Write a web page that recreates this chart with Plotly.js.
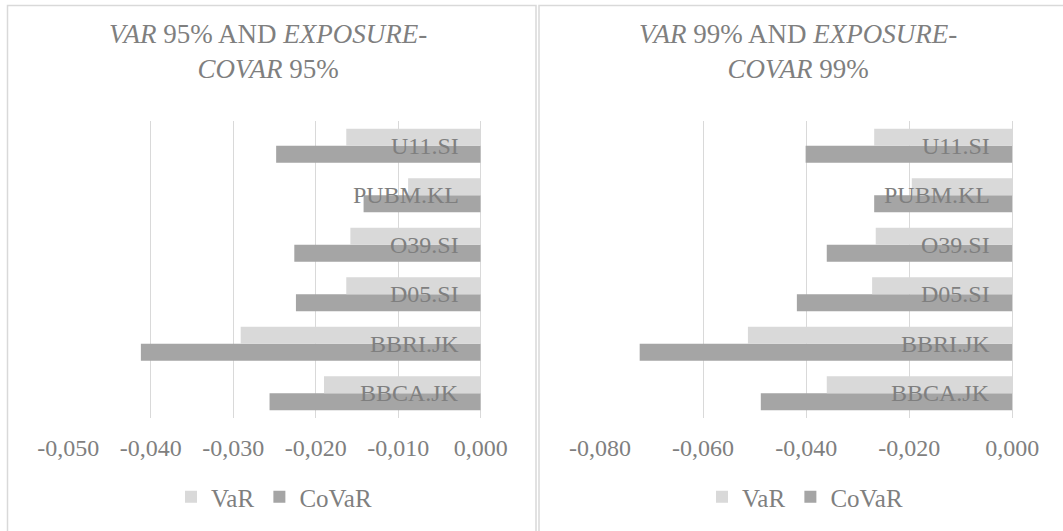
<!DOCTYPE html>
<html>
<head>
<meta charset="utf-8">
<script src="https://cdn.plot.ly/plotly-3.0.1.min.js"></script>
<style>
  html, body { margin: 0; padding: 0; background: #ffffff; }
  #chart { width: 1063px; height: 531px; }
</style>
</head>
<body>
<div id="chart"></div>
<script>
// Banks, bottom to top
const banks = ['BBCA.JK', 'BBRI.JK', 'D05.SI', 'O39.SI', 'PUBM.KL', 'U11.SI'];

// 95% confidence level
const var95   = [-0.0190, -0.0291, -0.0163, -0.0158, -0.0088, -0.0163];
const covar95 = [-0.0256, -0.0412, -0.0224, -0.0226, -0.0142, -0.0248];

// 99% confidence level
const var99   = [-0.0360, -0.0513, -0.0272, -0.0265, -0.0195, -0.0268];
const covar99 = [-0.0488, -0.0723, -0.0418, -0.0360, -0.0268, -0.0401];

// Axis ticks (comma decimal, plain hyphen minus)
const ticks95 = [-0.05, -0.04, -0.03, -0.02, -0.01, 0];
const tickLabels95 = ['-0,050', '-0,040', '-0,030', '-0,020', '-0,010', '0,000'];
const ticks99 = [-0.08, -0.06, -0.04, -0.02, 0];
const tickLabels99 = ['-0,080', '-0,060', '-0,040', '-0,020', '0,000'];

const titles = [
  '<i>VAR</i> 95% AND <i>EXPOSURE-</i><br><i>COVAR</i> 95%',
  '<i>VAR</i> 99% AND <i>EXPOSURE-</i><br><i>COVAR</i> 99%'
];

const FONT = '"Liberation Serif", "Times New Roman", serif';
const GREY_TEXT = '#7f7f7f';
const LIGHT = '#d9d9d9';
const DARK = '#a5a5a5';
const W = 1063, H = 531;
const px = v => v / W;
const py = v => (H - v) / H;

function bar(name, x, color, xa, ya, legend, rank) {
  return {
    type: 'bar', orientation: 'h', name: name,
    y: banks, x: x, xaxis: xa, yaxis: ya,
    marker: { color: color, line: { width: 0 } },
    legend: legend, legendrank: rank,
    hoverinfo: 'x+y'
  };
}

const data = [
  bar('CoVaR', covar95, DARK, 'x', 'y', 'legend', 2),
  bar('VaR', var95, LIGHT, 'x', 'y', 'legend', 1),
  bar('CoVaR', covar99, DARK, 'x2', 'y2', 'legend2', 2),
  bar('VaR', var99, LIGHT, 'x2', 'y2', 'legend2', 1)
];

function xAxis(domain, range, vals, text) {
  return {
    domain: domain, range: range,
    tickvals: vals, ticktext: text,
    showgrid: true, gridcolor: LIGHT, gridwidth: 1,
    zeroline: true, zerolinecolor: LIGHT, zerolinewidth: 1,
    showline: false, ticks: '',
    tickfont: { family: FONT, size: 24, color: GREY_TEXT },
    ticklabelstandoff: 13,
    fixedrange: true
  };
}

function yAxis(anchor) {
  return {
    anchor: anchor,
    domain: [py(418), py(121)],
    showticklabels: false,
    showgrid: false, zeroline: false, showline: false, ticks: '',
    categoryorder: 'array', categoryarray: banks,
    fixedrange: true
  };
}

function legendAt(xc) {
  return {
    orientation: 'h', x: px(xc), xanchor: 'center',
    y: py(497), yanchor: 'middle',
    font: { family: FONT, size: 25, color: GREY_TEXT },
    bgcolor: 'rgba(0,0,0,0)', itemwidth: 30,
    traceorder: 'normal'
  };
}

// Bank names sit inside the plot, right-aligned next to the zero line
function bankLabels(xref, yref) {
  return banks.map(b => ({
    text: b, x: 0, y: b, xref: xref, yref: yref,
    xanchor: 'right', yanchor: 'middle', xshift: -20, showarrow: false,
    font: { family: FONT, size: 24, color: GREY_TEXT }
  }));
}

function titleAt(text, xc) {
  return {
    text: text, x: px(xc), y: py(51), xref: 'paper', yref: 'paper',
    xanchor: 'center', yanchor: 'middle', showarrow: false, align: 'center',
    font: { family: FONT, size: 27, color: GREY_TEXT }
  };
}

const layout = {
  width: W, height: H,
  margin: { l: 0, r: 0, t: 0, b: 0 },
  paper_bgcolor: '#ffffff', plot_bgcolor: 'rgba(0,0,0,0)',
  barmode: 'group', bargap: 0.31, bargroupgap: 0,
  showlegend: true,
  xaxis: xAxis([px(68.3), px(480.7)], [-0.05, 0], ticks95, tickLabels95),
  yaxis: yAxis('x'),
  xaxis2: xAxis([px(600), px(1012.3)], [-0.08, 0], ticks99, tickLabels99),
  yaxis2: yAxis('x2'),
  legend: legendAt(274),
  legend2: legendAt(805),
  annotations: [
    titleAt(titles[0], 268),
    titleAt(titles[1], 798),
    ...bankLabels('x', 'y'),
    ...bankLabels('x2', 'y2')
  ],
  shapes: [
    // left panel frame (open at the bottom)
    { type: 'path', xref: 'paper', yref: 'paper',
      path: `M ${px(7.5)} ${-0.02} L ${px(7.5)} ${py(5.5)} L ${px(536)} ${py(5.5)} L ${px(536)} ${-0.02}`,
      line: { color: LIGHT, width: 1.5 } },
    // right panel frame
    { type: 'path', xref: 'paper', yref: 'paper',
      path: `M ${px(539)} ${-0.02} L ${px(539)} ${py(5.5)} L ${1.02} ${py(5.5)}`,
      line: { color: LIGHT, width: 1.5 } }
  ]
};

Plotly.newPlot('chart', data, layout, { displayModeBar: false, staticPlot: true });
</script>
</body>
</html>
